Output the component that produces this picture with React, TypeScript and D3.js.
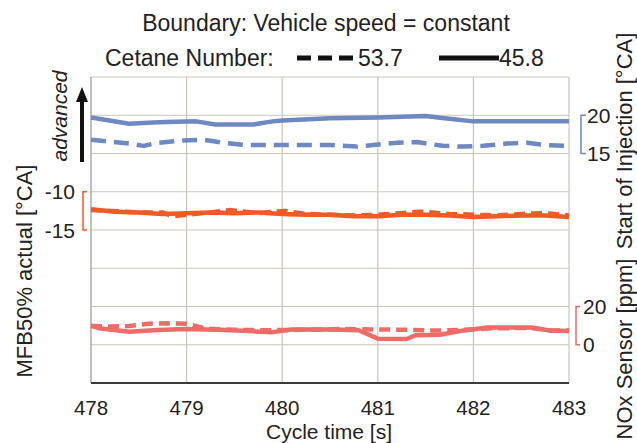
import React from "react";
import * as d3 from "d3";

const xTicks = [478, 479, 480, 481, 482, 483];

const soiSolidT = [478.0, 478.4, 478.7, 479.1, 479.3, 479.7, 479.9, 480.0, 480.5, 481.0, 481.5, 481.7, 482.0, 482.5, 483.0];
const soiSolidV = [19.7, 18.9, 19.1, 19.2, 18.8, 18.8, 19.2, 19.3, 19.6, 19.7, 19.9, 19.6, 19.2, 19.2, 19.2];

const soiDashT = [478.0, 478.4, 478.55, 478.7, 478.96, 479.17, 479.38, 479.63, 480.5, 480.78, 481.2, 481.41, 481.68, 481.89, 482.1, 482.35, 482.56, 482.77, 482.98];
const soiDashV = [16.8, 16.3, 16.0, 16.4, 16.7, 16.8, 16.4, 16.1, 16.1, 15.9, 16.4, 16.5, 16.0, 15.9, 16.0, 16.3, 16.4, 16.1, 16.0];

const mfbSolidT = [478.0, 478.25, 478.5, 478.75, 479.0, 479.25, 479.5, 479.75, 480.0, 480.25, 480.5, 480.75, 481.0, 481.25, 481.5, 481.75, 482.0, 482.25, 482.5, 482.75, 483.0];
const mfbSolidV = [-12.3, -12.6, -12.7, -12.9, -12.8, -12.7, -12.8, -12.7, -12.9, -13.0, -13.0, -13.2, -13.2, -13.0, -13.0, -13.1, -13.3, -13.2, -13.1, -13.1, -13.3];

const mfbDashT = [478.0, 478.2, 478.5, 478.75, 478.85, 479.0, 479.25, 479.45, 479.75, 480.03, 480.25, 480.5, 480.75, 481.0, 481.25, 481.45, 481.75, 482.0, 482.25, 482.5, 482.75, 483.0];
const mfbDashV = [-12.4, -12.5, -12.7, -12.7, -13.2, -13.0, -12.7, -12.4, -12.8, -12.5, -12.9, -13.0, -13.1, -13.0, -12.8, -12.6, -12.9, -13.0, -13.1, -12.9, -12.8, -13.1];

const noxSolidT = [478.0, 478.1, 478.4, 478.7, 479.0, 479.4, 479.7, 479.9, 480.1, 480.5, 480.8, 481.0, 481.3, 481.4, 481.65, 481.9, 482.15, 482.6, 482.8, 483.0];
const noxSolidV = [10.0, 8.5, 6.8, 7.7, 8.2, 7.7, 7.0, 6.6, 8.0, 8.0, 7.6, 3.2, 3.0, 5.0, 5.2, 7.5, 9.0, 9.0, 7.5, 7.2];

const noxDashT = [478.0, 478.2, 478.4, 478.6, 478.8, 479.0, 479.2, 479.5, 479.8, 480.2, 480.6, 481.0, 481.3, 481.6, 481.9, 482.2, 482.6, 482.8, 483.0];
const noxDashV = [9.8, 9.5, 9.8, 11.0, 11.2, 11.0, 8.5, 7.8, 7.6, 7.8, 8.2, 8.0, 7.8, 7.4, 7.8, 8.6, 8.8, 7.6, 7.4];

const FONT = "Liberation Sans, Arial, sans-serif";
const BLUE = "#6e88c2";
const ORANGE = "#f15a24";
const SALMON = "#ee6b68";
const GRID = "#cdc5bc";
const INK = "#222";

export default function App() {
  const W = 637, H = 443;
  const left = 91, right = 569, top = 77, bottom = 383;
  const x = d3.scaleLinear().domain([478, 483]).range([left, right]);
  const rowH = (bottom - top) / 8;
  const gy = (i: number) => top + i * rowH;
  const ySoi = d3.scaleLinear().domain([15, 20]).range([gy(2), gy(1)]);
  const yMfb = d3.scaleLinear().domain([-15, -10]).range([gy(4), gy(3)]);
  const yNox = d3.scaleLinear().domain([0, 20]).range([gy(7), gy(6)]);

  const mk = (ts: number[], vs: number[], ys: d3.ScaleLinear<number, number>) =>
    d3.line<number>().x((_, i) => x(ts[i])).y((v) => ys(v)).curve(d3.curveLinear)(vs) || "";

  const series = [
    { d: mk(soiSolidT, soiSolidV, ySoi), c: BLUE, dash: undefined },
    { d: mk(soiDashT, soiDashV, ySoi), c: BLUE, dash: "15,8" },
    { d: mk(mfbSolidT, mfbSolidV, yMfb), c: ORANGE, dash: undefined },
    { d: mk(mfbDashT, mfbDashV, yMfb), c: ORANGE, dash: "11,6" },
    { d: mk(noxSolidT, noxSolidV, yNox), c: SALMON, dash: undefined },
    { d: mk(noxDashT, noxDashV, yNox), c: SALMON, dash: "11,6" },
  ];

  return (
    <svg width={W} height={H} style={{ position: "absolute", left: 0, top: 0, background: "#fff" }} fontFamily={FONT}>
      <rect width={W} height={H} fill="#fff" />
      {d3.range(0, 8).map((i) => (
        <line key={"h" + i} x1={left} x2={right} y1={gy(i)} y2={gy(i)} stroke={GRID} strokeWidth={1.2} />
      ))}
      {xTicks.slice(1).map((t) => (
        <line key={"v" + t} x1={x(t)} x2={x(t)} y1={top} y2={bottom} stroke={GRID} strokeWidth={1.2} />
      ))}
      <line x1={left} x2={left} y1={top} y2={bottom} stroke="#9a948e" strokeWidth={1.2} />
      <line x1={left} x2={right} y1={bottom} y2={bottom} stroke="#3a3a3a" strokeWidth={2} />

      {series.map((s, i) => (
        <path key={i} d={s.d} fill="none" stroke={s.c} strokeWidth={4.5} strokeDasharray={s.dash} strokeLinejoin="round" />
      ))}

      {xTicks.map((t) => (
        <text key={"xt" + t} x={x(t)} y={415} fontSize={20.5} textAnchor="middle" fill={INK}>{t}</text>
      ))}
      <text x={329} y={439} fontSize={21} textAnchor="middle" fill={INK}>Cycle time [s]</text>

      <text x={326} y={31} fontSize={23} textAnchor="middle" fill={INK}>Boundary: Vehicle speed = constant</text>
      <text x={105} y={66} fontSize={23} fill={INK}>Cetane Number:</text>
      <line x1={297} x2={354} y1={58} y2={58} stroke="#111" strokeWidth={5} strokeDasharray="14,7" />
      <text x={358} y={66} fontSize={23} fill={INK}>53.7</text>
      <line x1={439} x2={499} y1={58} y2={58} stroke="#111" strokeWidth={5} />
      <text x={499} y={66} fontSize={23} fill={INK}>45.8</text>

      <path d={`M87,${yMfb(-10)}H83V${yMfb(-15)}H87`} fill="none" stroke={ORANGE} strokeWidth={1.5} />
      <text x={75} y={yMfb(-10) + 7.5} fontSize={21} textAnchor="end" fill={INK}>-10</text>
      <text x={75} y={yMfb(-15) + 7.5} fontSize={21} textAnchor="end" fill={INK}>-15</text>
      <text transform="translate(32,271) rotate(-90)" fontSize={22} textAnchor="middle" fill={INK}>MFB50% actual [°CA]</text>

      <text transform="translate(67,116) rotate(-90)" fontSize={21} fontStyle="italic" textAnchor="middle" fill={INK}>advanced</text>
      <line x1={82} x2={82} y1={162} y2={100} stroke="#111" strokeWidth={4} />
      <path d="M76,102 L82,87 L88,102 Z" fill="#111" />

      <path d={`M586,${ySoi(20)}H581V${ySoi(15)}H586`} fill="none" stroke={BLUE} strokeWidth={1.5} />
      <text x={587} y={ySoi(20) + 7.5} fontSize={21} fill={INK}>20</text>
      <text x={587} y={ySoi(15) + 7.5} fontSize={21} fill={INK}>15</text>
      <text transform="translate(632,141) rotate(-90)" fontSize={22} textAnchor="middle" fill={INK}>Start of Injection [°CA]</text>

      <path d={`M580,${yNox(20)}H576V${yNox(0)}H580`} fill="none" stroke={SALMON} strokeWidth={1.5} />
      <text x={583} y={yNox(20) + 7.5} fontSize={21} fill={INK}>20</text>
      <text x={583} y={yNox(0) + 7.5} fontSize={21} fill={INK}>0</text>
      <text transform="translate(632,349) rotate(-90)" fontSize={22} textAnchor="middle" fill={INK}>NOx Sensor [ppm]</text>
    </svg>
  );
}
